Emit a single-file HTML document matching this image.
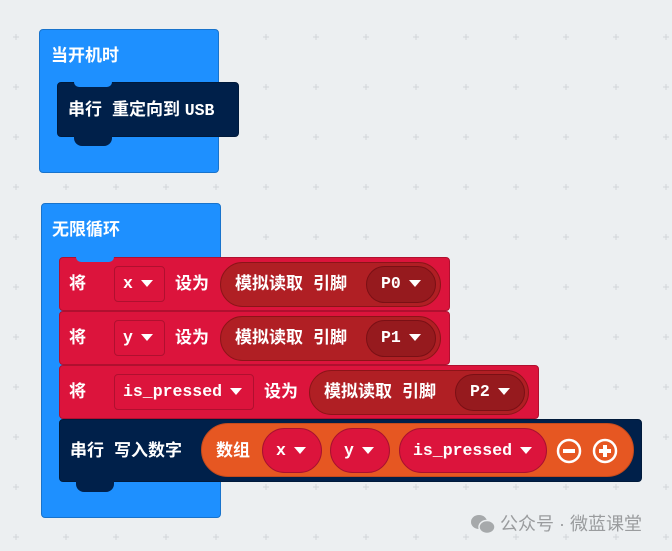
<!DOCTYPE html>
<html><head><meta charset="utf-8"><style>
body{margin:0;width:672px;height:551px;overflow:hidden;background:#eceff1;position:relative;font-family:"Liberation Sans","Noto Sans CJK SC",sans-serif;font-weight:bold;color:#fff;font-size:17px}
.a{position:absolute;box-sizing:border-box}
.t{position:absolute;white-space:nowrap;line-height:20px}
.m{font-family:"Liberation Mono","DejaVu Sans Mono",monospace;font-size:16.5px}
.sp{display:inline-block;width:10px}
.blue{background:#1e90ff;border:1px solid #1873cc;border-radius:4px}
.red{background:#dc143c;border:1px solid #b0102f;border-radius:4px}
.navy{background:#00204a;border:1px solid #001a3b;border-radius:4px}
.rep{background:#b01f24;border:1px solid #8c1418;border-radius:23px}
.dd{background:#961a1e;border:1px solid #7a1015;border-radius:19px}
.box{border:1px solid #b0102f;border-radius:4px}
.pill{background:#dc143c;border:1px solid #a81030;border-radius:20px}
.tri{display:inline-block;width:0;height:0;border-left:6px solid transparent;border-right:6px solid transparent;border-top:7px solid #fff;vertical-align:middle;margin-left:8px}
</style></head><body>
<svg class="a" style="left:0;top:0" width="672" height="551">
<g id="g" stroke="#d2d6d9"></g>
</svg>
<script>
var g=document.getElementById('g'),s='';
for(var x=16;x<672;x+=50)for(var y=37;y<551;y+=50){s+='<path d="M'+(x-3)+' '+y+'h6M'+x+' '+(y-3)+'v6"/>';}
g.innerHTML=s;
</script>

<div class="a blue" style="left:39px;top:29px;width:180px;height:144px"></div>
<div class="t" style="left:51px;top:46px">当开机时</div>
<div class="a navy" style="left:57px;top:82px;width:182px;height:55px"></div>
<div class="a" style="left:74px;top:82px;width:38px;height:5px;background:#1e90ff;border-radius:0 0 8px 8px"></div>
<div class="a" style="left:74px;top:136px;width:38px;height:10px;background:#00204a;border-radius:0 0 8px 8px"></div>
<div class="t" style="left:68px;top:100px">串行<span class="sp"></span>重定向到 <span class="m">USB</span></div>

<div class="a blue" style="left:41px;top:203px;width:180px;height:315px"></div>
<div class="t" style="left:52px;top:220px">无限循环</div>

<div class="a red" style="left:59px;top:257px;width:391px;height:54px"></div>
<div class="a" style="left:76px;top:257px;width:38px;height:5px;background:#1e90ff;border-radius:0 0 8px 8px"></div>
<div class="t" style="left:69px;top:274px">将</div>
<div class="a box" style="left:114px;top:266px;width:51px;height:36px"></div>
<div class="t m" style="left:123px;top:274px">x<span class="tri"></span></div>
<div class="t" style="left:175px;top:274px">设为</div>
<div class="a rep" style="left:220px;top:262px;width:221px;height:45px"></div>
<div class="t" style="left:235px;top:274px">模拟读取<span class="sp"></span>引脚</div>
<div class="a dd" style="left:366px;top:266px;width:70px;height:37px"></div>
<div class="t m" style="left:381px;top:274px">P0<span class="tri"></span></div>

<div class="a red" style="left:59px;top:311px;width:391px;height:54px"></div>
<div class="t" style="left:69px;top:328px">将</div>
<div class="a box" style="left:114px;top:320px;width:51px;height:36px"></div>
<div class="t m" style="left:123px;top:328px">y<span class="tri"></span></div>
<div class="t" style="left:175px;top:328px">设为</div>
<div class="a rep" style="left:220px;top:316px;width:221px;height:45px"></div>
<div class="t" style="left:235px;top:328px">模拟读取<span class="sp"></span>引脚</div>
<div class="a dd" style="left:366px;top:320px;width:70px;height:37px"></div>
<div class="t m" style="left:381px;top:328px">P1<span class="tri"></span></div>

<div class="a red" style="left:59px;top:365px;width:480px;height:54px"></div>
<div class="t" style="left:69px;top:382px">将</div>
<div class="a box" style="left:114px;top:374px;width:140px;height:36px"></div>
<div class="t m" style="left:123px;top:382px">is_pressed<span class="tri"></span></div>
<div class="t" style="left:264px;top:382px">设为</div>
<div class="a rep" style="left:309px;top:370px;width:220px;height:45px"></div>
<div class="t" style="left:324px;top:382px">模拟读取<span class="sp"></span>引脚</div>
<div class="a dd" style="left:455px;top:374px;width:70px;height:37px"></div>
<div class="t m" style="left:470px;top:382px">P2<span class="tri"></span></div>

<div class="a navy" style="left:59px;top:419px;width:583px;height:63px"></div>
<div class="a" style="left:76px;top:481px;width:38px;height:11px;background:#00204a;border-radius:0 0 8px 8px"></div>
<div class="t" style="left:70px;top:441px">串行<span class="sp"></span>写入数字</div>
<div class="a" style="left:201px;top:423px;width:433px;height:54px;background:#e65722;border:1px solid #c44a1c;border-radius:27px"></div>
<div class="t" style="left:216px;top:441px">数组</div>
<div class="a pill" style="left:262px;top:428px;width:60px;height:45px;border-radius:23px"></div>
<div class="t m" style="left:276px;top:441px">x<span class="tri"></span></div>
<div class="a pill" style="left:330px;top:428px;width:60px;height:45px;border-radius:23px"></div>
<div class="t m" style="left:344px;top:441px">y<span class="tri"></span></div>
<div class="a pill" style="left:399px;top:428px;width:148px;height:45px;border-radius:23px"></div>
<div class="t m" style="left:413px;top:441px">is_pressed<span class="tri"></span></div>
<svg class="a" style="left:556px;top:438px" width="70" height="26">
<circle cx="13" cy="13" r="11" fill="none" stroke="#fff" stroke-width="2.5"/><rect x="7" y="11" width="12" height="4" fill="#fff"/>
<circle cx="49" cy="13" r="11" fill="none" stroke="#fff" stroke-width="2.5"/><rect x="43" y="11" width="12" height="4" fill="#fff"/><rect x="47" y="7" width="4" height="12" fill="#fff"/>
</svg>

<svg class="a" style="left:470px;top:513px" width="26" height="22">
<ellipse cx="9" cy="9" rx="8" ry="7" fill="#a6a9ab"/><ellipse cx="17" cy="14" rx="8" ry="6.5" fill="#a6a9ab" stroke="#eceff1" stroke-width="1.5"/>
</svg>
<div class="t" style="left:500px;top:514px;color:#9a9c9e;font-weight:normal;font-size:18px">公众号 · 微蓝课堂</div>
</body></html>
